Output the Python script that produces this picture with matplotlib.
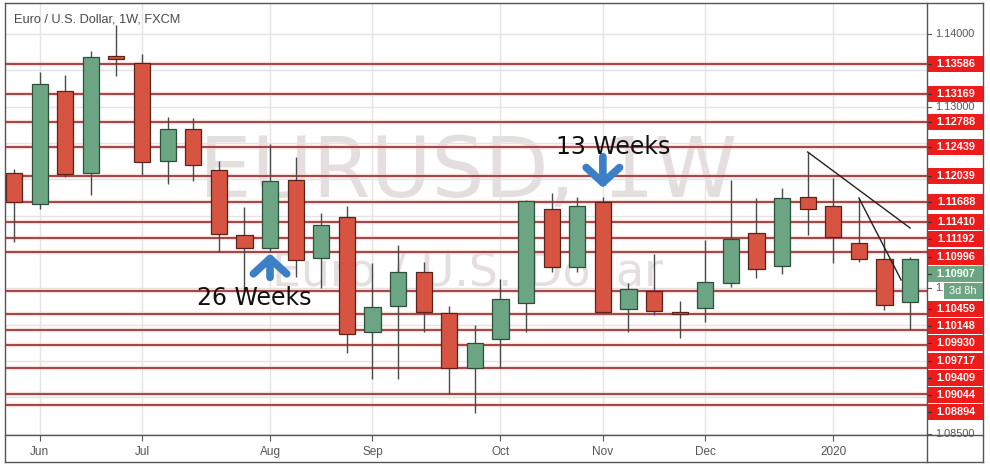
"""EUR/USD weekly candles (FXCM) with horizontal support/resistance levels."""

import matplotlib
matplotlib.use("Agg")
import numpy as np
from matplotlib import pyplot as plt
from matplotlib.lines import Line2D
from matplotlib.patches import Rectangle, FancyArrowPatch

W, H = 990, 466

# ── data: weekly bars, week of 27 May 2019 .. week of 20 Jan 2020 ─────────
opens = [1.12086, 1.11660, 1.13214, 1.12086, 1.13696, 1.13600, 1.12251, 1.12692,
         1.12127, 1.11233, 1.11054, 1.11990, 1.10917, 1.11481, 1.09898, 1.10256,
         1.10724, 1.10160, 1.09403, 1.09802, 1.10297, 1.11591, 1.10793, 1.11687,
         1.10215, 1.10462, 1.10160, 1.10229, 1.10573, 1.11261, 1.10806, 1.11756,
         1.11632, 1.11123, 1.10903, 1.10311]
highs = [1.12141, 1.13476, 1.13435, 1.13765, 1.14123, 1.13724, 1.12857, 1.12843,
         1.12251, 1.11618, 1.12485, 1.12306, 1.11536, 1.11632, 1.10848, 1.11095,
         1.10862, 1.10256, 1.09995, 1.10628, 1.11715, 1.11811, 1.11756, 1.11756,
         1.10573, 1.10972, 1.10325, 1.11164, 1.11990, 1.11742, 1.11880, 1.12375,
         1.12017, 1.11742, 1.11192, 1.10930]
lows = [1.11137, 1.11591, 1.12031, 1.11783, 1.13421, 1.12059, 1.11935, 1.11976,
        1.10999, 1.10462, 1.11000, 1.10655, 1.10504, 1.09609, 1.09252, 1.09252,
        1.09898, 1.09045, 1.08784, 1.09403, 1.09898, 1.10724, 1.10724, 1.10174,
        1.09898, 1.10132, 1.09816, 1.10036, 1.10518, 1.10641, 1.10696, 1.11233,
        1.10848, 1.10862, 1.10201, 1.09926]
closes = [1.11687, 1.13311, 1.12072, 1.13682, 1.13655, 1.12238, 1.12692, 1.12196,
          1.11247, 1.11054, 1.11976, 1.10889, 1.11371, 1.09871, 1.10242, 1.10724,
          1.10174, 1.09403, 1.09747, 1.10352, 1.11701, 1.10793, 1.11632, 1.10174,
          1.10490, 1.10187, 1.10150, 1.10586, 1.11178, 1.10765, 1.11742, 1.11591,
          1.11206, 1.10903, 1.10270, 1.10907]

month_labels = ["Jun", "Jul", "Aug", "Sep", "Oct", "Nov", "Dec", "2020"]
month_bars = [1, 5, 10, 14, 19, 23, 27, 32]

levels = [1.13586, 1.13169, 1.12788, 1.12439, 1.12039, 1.11688, 1.11410, 1.11192,
          1.10996, 1.10459, 1.10148, 1.09930, 1.09717, 1.09409, 1.09044, 1.08894]
axis_ticks = [1.14000, 1.13000, 1.10500, 1.08500]
last_price = 1.10907
countdown = "3d 8h"

# trend lines: (bar, price) -> (bar, price)
trend_lines = [((31, 1.12375), (35.0, 1.11329)),
               ((33, 1.11742), (34.65, 1.10614))]
# callouts: label, bar, arrow tail price, arrow tip price, label bar, label price
callouts = [("13 Weeks", 23, 1.12310, 1.11880, 23.4, 1.12444),
            ("26 Weeks", 10, 1.10650, 1.10980, 9.4, 1.10366)]

GREEN, RED = "#6ba583", "#d75442"
GREEN_EDGE, RED_EDGE = "#2d4f3b", "#5c2119"
LEVEL_RED = "#ee1b1b"
GRID = "#e4e4e4"
FRAME = "#555555"


def px_box(x0, y0, x1, y1):
    return [x0 / W, 1 - y1 / H, (x1 - x0) / W, (y1 - y0) / H]


fig = plt.figure(figsize=(W / 100, H / 100), dpi=100)
fig.patch.set_facecolor("white")

ax = fig.add_axes(px_box(5, 3, 927, 435))
pax = fig.add_axes(px_box(927, 3, 983, 435), sharey=ax)

ymin, ymax = 1.08481, 1.14425
ax.set_xlim(-0.352, 35.66)
ax.set_ylim(ymin, ymax)
pax.set_xlim(0, 1)

# grid
ax.set_yticks(np.arange(1.085, 1.1401, 0.005))
ax.set_xticks(month_bars)
ax.grid(True, color=GRID, lw=1)
ax.set_axisbelow(True)
ax.tick_params(axis="y", left=False, labelleft=False)
ax.tick_params(axis="x", length=4, color=FRAME, labelbottom=False)
for bar, lab in zip(month_bars, month_labels):
    ax.text(bar, -0.046, lab, transform=ax.get_xaxis_transform(), ha="center",
            va="baseline", fontsize=8.5, color="#555555", family="Liberation Sans")
for sp in ax.spines.values():
    sp.set_visible(False)
pax.tick_params(left=False, labelleft=False, bottom=False, labelbottom=False)
for sp in pax.spines.values():
    sp.set_visible(False)

# watermark
ax.text(0.502, 0.606, "EURUSD, 1W", transform=ax.transAxes, ha="center", va="center",
        fontsize=60, color="#e4dede", zorder=0.5)
ax.text(0.502, 0.375, "Euro / U.S. Dollar", transform=ax.transAxes, ha="center",
        va="center", fontsize=33, color="#e4dede", zorder=0.5)

# horizontal levels
for lvl in levels:
    ax.axhline(lvl, color="#f6c9c9", lw=3.2, alpha=0.6, zorder=1)
    ax.axhline(lvl, color="#8e1c1c", lw=1.1, zorder=1.5)

# candles
x = np.arange(len(opens))
o, h, l, c = map(np.asarray, (opens, highs, lows, closes))
up = c >= o
body_lo = np.minimum(o, c)
body_h = np.maximum(np.abs(c - o), 0.00018)
ax.vlines(x, l, h, color="#4a4a4a", lw=1, zorder=2)
ax.bar(x[up], body_h[up], bottom=body_lo[up], width=0.63, color=GREEN,
       edgecolor=GREEN_EDGE, lw=0.9, zorder=3)
ax.bar(x[~up], body_h[~up], bottom=body_lo[~up], width=0.63, color=RED,
       edgecolor=RED_EDGE, lw=0.9, zorder=3)

# trend lines
for (x0, y0), (x1, y1) in trend_lines:
    ax.plot([x0, x1], [y0, y1], color="#222222", lw=1, zorder=4)

# callouts
for label, bar, tail, tip, tx, ty in callouts:
    arrow = FancyArrowPatch((bar, tail), (bar, tip),
                            arrowstyle="->,head_length=0.55,head_width=0.6",
                            mutation_scale=20, color="#3b7fc6", lw=5.5,
                            shrinkA=0, shrinkB=0,
                            capstyle="round", joinstyle="round", zorder=5)
    ax.add_patch(arrow)
    ax.text(tx, ty, label, ha="center", va="center", fontsize=17,
            color="#111111", zorder=6)

# price axis: gray tick labels
for t in axis_ticks:
    pax.text(0.5, t, f"{t:.5f}", ha="center", va="center", fontsize=7.8,
             color="#555555", family="Liberation Sans", zorder=2)
    pax.plot([0, 0.07], [t, t], color=FRAME, lw=0.8, zorder=2)

# price axis: level labels, pushed apart so they do not overlap
gap = 17.3 * (ymax - ymin) / 432
half = 8 * (ymax - ymin) / 432
entries = sorted([(lvl, LEVEL_RED) for lvl in levels] + [(last_price, GREEN)],
                 key=lambda e: -e[0])
prev = None
for price, col in entries:
    y = price if prev is None else min(price, prev - gap)
    pax.add_patch(Rectangle((0, y - half), 1, 2 * half, color=col, lw=0, zorder=3))
    pax.text(0.52, y, f"{price:.5f}", ha="center", va="center", fontsize=7.8,
             fontweight="bold", color="white", family="Liberation Sans", zorder=4)
    pax.plot([0, 0.07], [y, y], color="#333333", lw=0.8, zorder=4)
    prev = y
    if col == GREEN:
        y = prev - gap
        pax.add_patch(Rectangle((0.3, y - half), 0.7, 2 * half, color=GREEN, lw=0, zorder=3))
        pax.text(0.64, y, countdown, ha="center", va="center", fontsize=7.8,
                 color="white", family="Liberation Sans", zorder=4)
        prev = y

# frame
def fig_line(x0, y0, x1, y1):
    fig.add_artist(Line2D([x0 / W, x1 / W], [1 - y0 / H, 1 - y1 / H],
                          color=FRAME, lw=1))


fig_line(5, 3, 983, 3)
fig_line(5, 462, 983, 462)
fig_line(5, 3, 5, 462)
fig_line(983, 3, 983, 462)
fig_line(927, 3, 927, 462)
fig_line(5, 435, 983, 435)

fig.text(14 / W, 1 - 20 / H, "Euro / U.S. Dollar, 1W, FXCM", ha="left", va="center",
         fontsize=9.2, color="#4a4a4a", family="Liberation Sans")

fig.savefig("out.png", dpi=100)
